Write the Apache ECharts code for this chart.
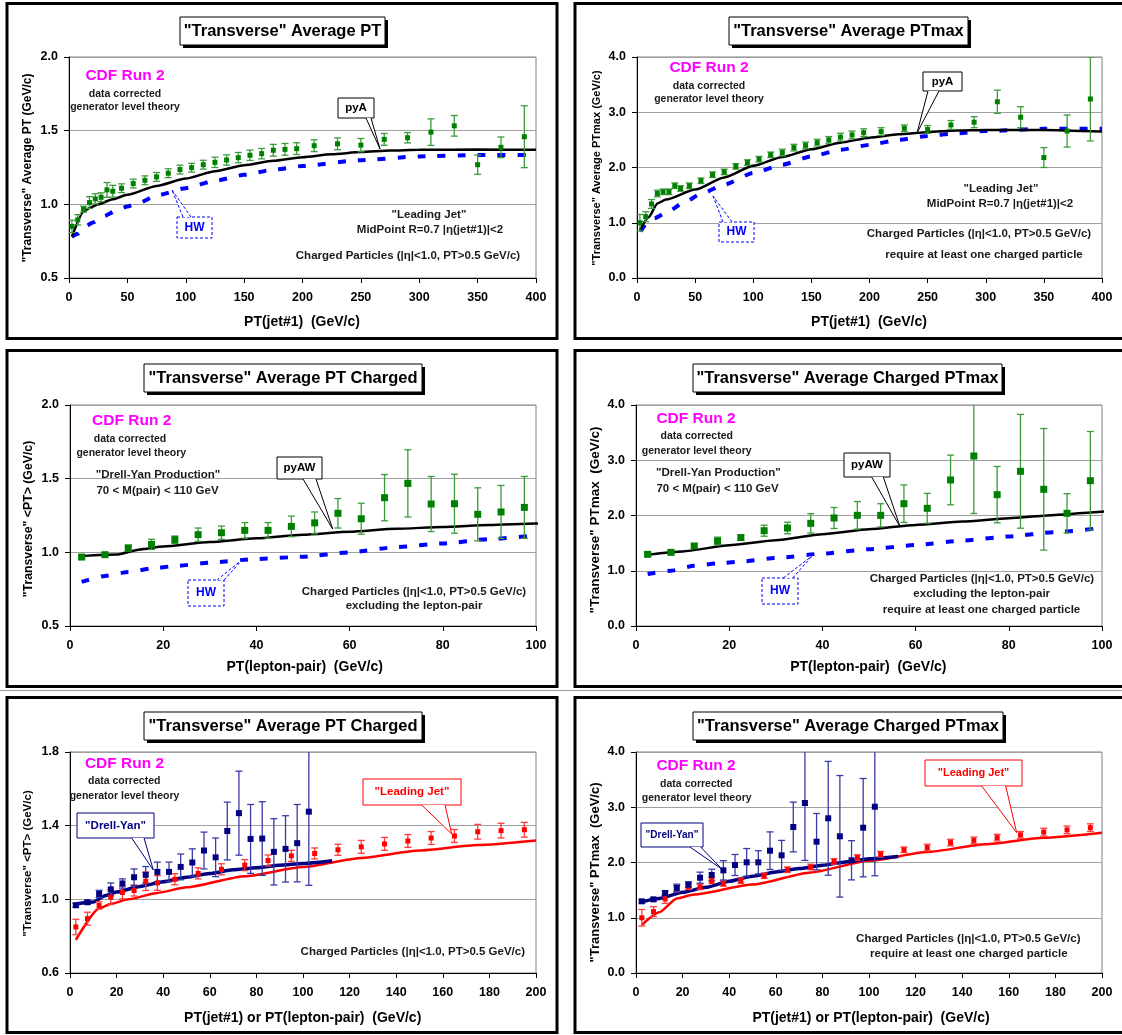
<!DOCTYPE html>
<html><head><meta charset="utf-8">
<script src="https://cdn.jsdelivr.net/npm/echarts@6/dist/echarts.min.js"></script>
<style>html,body{margin:0;padding:0;background:#fff}#c{width:1122px;height:1035px}</style>
</head><body><div id="c"></div>
<script>
// ---------- DATA ----------
// "Leading Jet" data (PT(jet#1) bins)
const jetX = [2.5,7.5,12.5,17.5,22.5,27.5,32.5,37.5,45,55,65,75,85,95,105,115,125,135,145,155,165,175,185,195,210,230,250,270,290,310,330,350,370,390];
const jetAvgPT = [0.85,0.895,0.967,1.012,1.037,1.048,1.098,1.089,1.109,1.141,1.163,1.186,1.211,1.236,1.249,1.269,1.285,1.301,1.317,1.333,1.344,1.367,1.373,1.378,1.398,1.411,1.402,1.441,1.452,1.49,1.533,1.269,1.387,1.459];
const jetAvgPTErr = [0.042,0.035,0.02,0.04,0.035,0.03,0.05,0.04,0.03,0.03,0.03,0.03,0.03,0.03,0.03,0.03,0.035,0.035,0.035,0.035,0.035,0.04,0.04,0.04,0.04,0.04,0.045,0.04,0.035,0.09,0.07,0.065,0.07,0.21];
const jetPTmax = [1.0,1.11,1.34,1.53,1.56,1.56,1.67,1.62,1.67,1.76,1.87,1.92,2.02,2.09,2.15,2.23,2.27,2.36,2.40,2.45,2.50,2.55,2.59,2.63,2.65,2.71,2.69,2.77,2.82,3.19,2.91,2.18,2.66,3.24];
const jetPTmaxErr = [0.15,0.09,0.08,0.06,0.05,0.05,0.05,0.05,0.05,0.05,0.05,0.05,0.05,0.05,0.05,0.05,0.06,0.06,0.06,0.06,0.06,0.07,0.07,0.07,0.07,0.06,0.07,0.08,0.1,0.21,0.19,0.18,0.29,0.76];
// "Drell-Yan" data (PT(lepton-pair) bins)
const dyX = [2.5,7.5,12.5,17.5,22.5,27.5,32.5,37.5,42.5,47.5,52.5,57.5,62.5,67.5,72.5,77.5,82.5,87.5,92.5,97.5,102.5];
const dyAvgPT = [0.968,0.984,1.029,1.054,1.086,1.12,1.133,1.149,1.149,1.176,1.2,1.265,1.228,1.371,1.468,1.328,1.33,1.258,1.274,1.305,1.476];
const dyAvgPTErr = [0.01,0.01,0.02,0.035,0.025,0.045,0.045,0.053,0.053,0.07,0.074,0.1,0.105,0.157,0.228,0.187,0.2,0.18,0.18,0.21,0.4];
const dyPTmax = [1.297,1.333,1.448,1.538,1.6,1.725,1.774,1.858,1.955,2.003,2.003,2.214,2.13,2.643,3.077,2.377,2.8,2.474,2.04,2.63,3.01];
const dyPTmaxErr = [0.03,0.03,0.04,0.07,0.05,0.1,0.105,0.175,0.19,0.25,0.21,0.34,0.27,0.45,1.04,0.51,1.03,1.1,0.355,0.89,1.25];
// Theory curves
const pyAavgX = [2.5,12.5,17.5,25,37.5,50,75,100,125,150,175,200,225,250,275,300,350,400];
const pyAavgY = [0.78,0.95,0.975,1.0,1.035,1.065,1.125,1.175,1.225,1.265,1.295,1.32,1.34,1.355,1.365,1.37,1.372,1.37];
const hwAvgX = [2.5,7.5,15,20,30,40,50,60,75,100,125,150,175,200,250,300,350,400];
const hwAvgY = [0.78,0.80,0.855,0.875,0.92,0.955,0.985,1.01,1.06,1.11,1.16,1.2,1.235,1.26,1.30,1.325,1.335,1.335];
const pyAmaxX = [2.5,10,17.5,25,50,75,100,125,150,175,200,225,250,275,300,350,400];
const pyAmaxY = [0.87,1.1,1.35,1.42,1.6,1.82,2.03,2.19,2.33,2.45,2.54,2.6,2.64,2.67,2.68,2.68,2.65];
const hwMaxX = [3,8,15,25,40,55,75,100,125,150,175,200,225,250,275,300,350,400];
const hwMaxY = [0.84,0.98,1.08,1.18,1.36,1.52,1.69,1.9,2.05,2.2,2.32,2.41,2.5,2.57,2.62,2.66,2.7,2.7];
const pyAWavgX = [2.5,10,15,20,30,40,50,60,70,80,90,100,112.5];
const pyAWavgY = [0.975,0.985,1.02,1.04,1.07,1.095,1.12,1.14,1.16,1.172,1.185,1.195,1.21];
const hwDYavgX = [2.5,7.5,12.5,17.5,22.5,30,40,50,60,70,80,90,100];
const hwDYavgY = [0.80,0.84,0.866,0.89,0.907,0.93,0.955,0.97,1.0,1.035,1.06,1.09,1.115];
const pyAWmaxX = [2.5,10,20,30,40,50,60,70,80,90,100,112.5];
const pyAWmaxY = [1.29,1.35,1.46,1.55,1.66,1.75,1.83,1.89,1.95,2.01,2.07,2.11];
const hwDYmaxX = [2.5,7.5,12.5,17.5,22.5,30,40,50,60,70,80,90,100];
const hwDYmaxY = [0.94,1.0,1.09,1.135,1.165,1.23,1.31,1.39,1.465,1.545,1.62,1.70,1.775];
// Tick labels / titles
const titles = ['"Transverse" Average PT','"Transverse" Average PTmax','"Transverse" Average PT Charged','"Transverse" Average Charged PTmax','"Transverse" Average PT Charged','"Transverse" Average Charged PTmax'];

// ---------- HELPERS ----------
const F = '"Liberation Sans", Arial, Helvetica, sans-serif';
const pts = (xs, ys, lim) => xs.map((x,i)=>[x, ys[i]]).filter(p => lim===undefined || p[0] <= lim);
const errs = (xs, ys, es, lim) => xs.map((x,i)=>[x, ys[i], es[i]]).filter(p => lim===undefined || p[0] <= lim);

const grids = [
  {left:69, top:57, width:467, height:221},
  {left:637, top:57, width:465, height:221},
  {left:70, top:405, width:466, height:221},
  {left:636, top:405, width:466, height:221},
  {left:70, top:752, width:466, height:221},
  {left:636, top:752, width:466, height:221}
];
const axes = [
  {xmax:400, xint:50, ymin:0.5, ymax:2.0, yint:0.5},
  {xmax:400, xint:50, ymin:0, ymax:4.0, yint:1.0},
  {xmax:100, xint:20, ymin:0.5, ymax:2.0, yint:0.5},
  {xmax:100, xint:20, ymin:0, ymax:4.0, yint:1.0},
  {xmax:200, xint:20, ymin:0.6, ymax:1.8, yint:0.4},
  {xmax:200, xint:20, ymin:0, ymax:4.0, yint:1.0}
];
const lbl = {color:'#000', fontSize:12.5, fontWeight:'bold', fontFamily:F};
const xAxis = axes.map((a,i)=>({gridIndex:i, type:'value', min:0, max:a.xmax, interval:a.xint,
  axisLine:{show:true, onZero:false, lineStyle:{color:'#000', width:1}},
  axisTick:{show:true, length:5, lineStyle:{color:'#000'}},
  splitLine:{show:false}, axisLabel:Object.assign({margin:13}, lbl)}));
const yAxis = axes.map((a,i)=>({gridIndex:i, type:'value', min:a.ymin, max:a.ymax, interval:a.yint,
  axisLine:{show:true, onZero:false, lineStyle:{color:'#000', width:1}},
  axisTick:{show:true, length:5, lineStyle:{color:'#000'}},
  splitLine:{show:true, lineStyle:{color:'#a0a0a0', width:1}},
  axisLabel:Object.assign({margin:11, formatter:v=>v.toFixed(1)}, lbl)}));

function errSeries(gi, data, color, cap) {
  return {type:'custom', xAxisIndex:gi, yAxisIndex:gi, clip:true, z:3, silent:true,
    encode:{x:0, y:1}, data,
    renderItem:function(params, api){
      const x=api.value(0), y=api.value(1), e=api.value(2);
      const t=api.coord([x,y+e]), b=api.coord([x,y-e]);
      const st={stroke:color, lineWidth:1.3};
      return {type:'group', children:[
        {type:'line', shape:{x1:t[0],y1:t[1],x2:b[0],y2:b[1]}, style:st},
        {type:'line', shape:{x1:t[0]-cap,y1:t[1],x2:t[0]+cap,y2:t[1]}, style:st},
        {type:'line', shape:{x1:b[0]-cap,y1:b[1],x2:b[0]+cap,y2:b[1]}, style:st}]};
    }};
}
function scat(gi, data, color, size) {
  return {type:'scatter', xAxisIndex:gi, yAxisIndex:gi, symbol:'rect', symbolSize:size, silent:true,
    itemStyle:{color, opacity:1}, data, z:4};
}
function curve(gi, data, color, width, type, z) {
  return {type:'line', xAxisIndex:gi, yAxisIndex:gi, data, symbol:'none', showSymbol:false, silent:true,
    smooth:0.2, smoothMonotone:'x', lineStyle:{color, width, type, cap:'butt'}, z:z||2};
}
const GREEN='#008000', GBAR='#3c9c3c', BLUE='#0000ff', NAVY='#000080', NBAR='#3a3aa8', RED='#ff0000', RBAR='#ff3b3b';
const HWDASH=[8,12];

const series = [
  // P1
  curve(0, pts(hwAvgX,hwAvgY), BLUE, 4, HWDASH),
  curve(0, pts(pyAavgX,pyAavgY), '#000', 2.5, 'solid'),
  errSeries(0, errs(jetX,jetAvgPT,jetAvgPTErr), GBAR, 3.5),
  scat(0, pts(jetX,jetAvgPT), GREEN, 5),
  // P2
  curve(1, pts(hwMaxX,hwMaxY), BLUE, 4, HWDASH),
  curve(1, pts(pyAmaxX,pyAmaxY), '#000', 2.5, 'solid'),
  errSeries(1, errs(jetX,jetPTmax,jetPTmaxErr), GBAR, 3.5),
  scat(1, pts(jetX,jetPTmax), GREEN, 5),
  // P3
  curve(2, pts(hwDYavgX,hwDYavgY), BLUE, 4, HWDASH),
  curve(2, pts(pyAWavgX,pyAWavgY), '#000', 2.5, 'solid'),
  errSeries(2, errs(dyX,dyAvgPT,dyAvgPTErr,100), GBAR, 3.5),
  scat(2, pts(dyX,dyAvgPT,100), GREEN, 7),
  // P4
  curve(3, pts(hwDYmaxX,hwDYmaxY), BLUE, 4, HWDASH),
  curve(3, pts(pyAWmaxX,pyAWmaxY), '#000', 2.5, 'solid'),
  errSeries(3, errs(dyX,dyPTmax,dyPTmaxErr,100), GBAR, 3.5),
  scat(3, pts(dyX,dyPTmax,100), GREEN, 7),
  // P5
  curve(4, pts(pyAavgX,pyAavgY,200), RED, 2.5, 'solid', 2),
  curve(4, pts(pyAWavgX,pyAWavgY), NAVY, 3.5, 'solid', 2),
  errSeries(4, errs(jetX,jetAvgPT,jetAvgPTErr,200), RBAR, 3.5),
  scat(4, pts(jetX,jetAvgPT,200), RED, 5),
  errSeries(4, errs(dyX,dyAvgPT,dyAvgPTErr), NBAR, 3.5),
  scat(4, pts(dyX,dyAvgPT), NAVY, 6),
  // P6
  curve(5, pts(pyAmaxX,pyAmaxY,200), RED, 2.5, 'solid', 2),
  curve(5, pts(pyAWmaxX,pyAWmaxY), NAVY, 3.5, 'solid', 2),
  errSeries(5, errs(jetX,jetPTmax,jetPTmaxErr,200), RBAR, 3.5),
  scat(5, pts(jetX,jetPTmax,200), RED, 5),
  errSeries(5, errs(dyX,dyPTmax,dyPTmaxErr), NBAR, 3.5),
  scat(5, pts(dyX,dyPTmax), NAVY, 6)
];

// ---------- GRAPHICS (annotations / layout) ----------
const G = [];
function T(x,y,s,size,color,rot){ G.push({type:'text', x, y, rotation:rot||0, z:100, silent:true,
  style:{text:s, font:'bold '+size+'px '+F, fill:color||'#000', textAlign:'center', textVerticalAlign:'middle'}}); }
function R(x,y,w,h,style){ G.push({type:'rect', z:99, silent:true, shape:{x,y,width:w,height:h}, style}); }
function L(x1,y1,x2,y2,stroke,lw,dash){ G.push({type:'line', z:99, silent:true, shape:{x1,y1,x2,y2}, style:{stroke, lineWidth:lw||1, lineDash:dash||null}}); }
function callout(bx,by,bw,bh,text,size,color,a,b,tip,dash){
  R(bx,by,bw,bh,{fill:'#fff', stroke:color, lineWidth:1, lineDash:dash||null});
  G.push({type:'polygon', z:99, silent:true, shape:{points:[a,b,tip]}, style:{fill:'#fff', stroke:null}});
  L(a[0],a[1],tip[0],tip[1],color,1,dash); L(b[0],b[1],tip[0],tip[1],color,1,dash);
  T(bx+bw/2, by+bh/2, text, size, color);
}
function titleBox(x,y,w,h,s){
  R(x+3,y+3,w,h,{fill:'#000'});
  R(x,y,w,h,{fill:'#fff', stroke:'#000', lineWidth:1});
  T(x+w/2, y+h/2+0.5, s, 16.5, '#000');
}
// panel frames
R(7,3.5,550,335,{fill:null, stroke:'#000', lineWidth:3});
R(575,3.5,560,335,{fill:null, stroke:'#000', lineWidth:3});
R(7,350.5,550,336,{fill:null, stroke:'#000', lineWidth:3});
R(575,350.5,560,336,{fill:null, stroke:'#000', lineWidth:3});
R(7,697.5,550,335,{fill:null, stroke:'#000', lineWidth:3});
R(575,697.5,560,335,{fill:null, stroke:'#000', lineWidth:3});
L(0,690.5,1122,690.5,'#9a9a9a',1);

const MAG='#ff00ff', TX='#1a1a1a', DASH=[3,2];
// P1
titleBox(180,17,205,28,titles[0]);
T(125,76,'CDF Run 2',15.5,MAG); T(125,94,'data corrected',10.5,TX); T(125,107.5,'generator level theory',10.5,TX);
callout(338,98,36,20,'pyA',11.5,'#000',[366,118],[371,118],[380,149]);
callout(177,217,35,21,'HW',12,BLUE,[183,217],[191,217],[172,190],DASH);
T(429,215,'"Leading Jet"',11.5,TX); T(430,230,'MidPoint R=0.7 |η(jet#1)|<2',11.5,TX);
T(408,256,'Charged Particles (|η|<1.0, PT>0.5 GeV/c)',11.5,TX);
T(302,322,'PT(jet#1)  (GeV/c)',14,'#000'); T(28,168,'"Transverse" Average PT (GeV/c)',12,'#000',Math.PI/2);
// P2
titleBox(729,17,239,28,titles[1]);
T(709,68,'CDF Run 2',15.5,MAG); T(709,86,'data corrected',10.5,TX); T(709,99.5,'generator level theory',10.5,TX);
callout(923,72,39,19,'pyA',11.5,'#000',[928,91],[939,91],[917,133]);
callout(719,222,35,20,'HW',12,BLUE,[723,222],[732,222],[713,196],DASH);
T(1001,189,'"Leading Jet"',11.5,TX); T(1000,203.5,'MidPoint R=0.7 |η(jet#1)|<2',11.5,TX);
T(979,233.5,'Charged Particles (|η|<1.0, PT>0.5 GeV/c)',11.5,TX); T(984,255,'require at least one charged particle',11.5,TX);
T(869,322,'PT(jet#1)  (GeV/c)',14,'#000'); T(597,168,'"Transverse" Average PTmax (GeV/c)',11,'#000',Math.PI/2);
// P3
titleBox(144,364,278,28,titles[2]);
T(131.7,421,'CDF Run 2',15.5,MAG); T(130,439,'data corrected',10.5,TX); T(131.3,452.7,'generator level theory',10.5,TX);
T(158,475,'"Drell-Yan Production"',11.5,TX); T(157.5,490.7,'70 < M(pair) < 110 GeV',11.5,TX);
callout(277,457,45,22,'pyAW',11.5,'#000',[303,479],[316,479],[332.7,529]);
callout(188,580,36,26,'HW',12,BLUE,[217,580],[224,580],[243,559],DASH);
T(414,591.7,'Charged Particles (|η|<1.0, PT>0.5 GeV/c)',11.5,TX); T(414,605.7,'excluding the lepton-pair',11.5,TX);
T(304.7,667.5,'PT(lepton-pair)  (GeV/c)',14,'#000'); T(28.3,519,'"Transverse" <PT> (GeV/c)',12.3,'#000',Math.PI/2);
// P4
titleBox(693,364,309,28,titles[3]);
T(696,419,'CDF Run 2',15.5,MAG); T(696.7,436,'data corrected',10.5,TX); T(696.7,451,'generator level theory',10.5,TX);
T(718.3,473.3,'"Drell-Yan Production"',11.5,TX); T(717.5,489,'70 < M(pair) < 110 GeV',11.5,TX);
callout(844,453,46,24,'pyAW',11.5,'#000',[871.7,477],[883.3,477],[900,526.7]);
callout(762,578,36,26,'HW',12,BLUE,[783.3,578],[792.7,578],[812,556],DASH);
T(982,579.3,'Charged Particles (|η|<1.0, PT>0.5 GeV/c)',11.5,TX); T(981.7,594.3,'excluding the lepton-pair',11.5,TX);
T(981.5,610,'require at least one charged particle',11.5,TX);
T(868.3,667,'PT(lepton-pair)  (GeV/c)',14,'#000'); T(595,520,'"Transverse" PTmax  (GeV/c)',13.5,'#000',Math.PI/2);
// P5
titleBox(144,712,278,28,titles[4]);
T(124.5,764,'CDF Run 2',15.5,MAG); T(124.2,781,'data corrected',10.5,TX); T(124.5,795.7,'generator level theory',10.5,TX);
callout(77,813,77,25,'"Drell-Yan"',11.5,NAVY,[131.7,838],[144,838],[153.3,870]);
callout(363,779,98,26,'"Leading Jet"',11.5,RED,[421.7,805],[445,805],[451.7,834]);
T(412.8,952.3,'Charged Particles (|η|<1.0, PT>0.5 GeV/c)',11.5,TX);
T(302.7,1018.5,'PT(jet#1) or PT(lepton-pair)  (GeV/c)',14,'#000'); T(27.5,863.5,'"Transverse" <PT> (GeV/c)',11.5,'#000',Math.PI/2);
// P6
titleBox(693,712,310,28,titles[5]);
T(696,766,'CDF Run 2',15.5,MAG); T(696.3,784.3,'data corrected',10.5,TX); T(696.7,798.3,'generator level theory',10.5,TX);
callout(641,823,62,24,'"Drell-Yan"',10,NAVY,[690,847],[700.7,847],[721.7,869]);
callout(925,760,97,26,'"Leading Jet"',11,RED,[981.7,786],[1005.7,786],[1016.7,832.7]);
T(968.3,939.3,'Charged Particles (|η|<1.0, PT>0.5 GeV/c)',11.5,TX); T(968.8,954,'require at least one charged particle',11.5,TX);
T(871,1018.5,'PT(jet#1) or PT(lepton-pair)  (GeV/c)',14,'#000'); T(595,872.5,'"Transverse" PTmax  (GeV/c)',13,'#000',Math.PI/2);

const chart = echarts.init(document.getElementById('c'), null, {renderer:'canvas'});
chart.setOption({
  animation:false, backgroundColor:'#fff',
  grid: grids.map(g => Object.assign({show:true, borderColor:'#808080', borderWidth:1, backgroundColor:'transparent', containLabel:false}, g)),
  xAxis, yAxis, series, graphic:{elements:G}
});
</script></body></html>
